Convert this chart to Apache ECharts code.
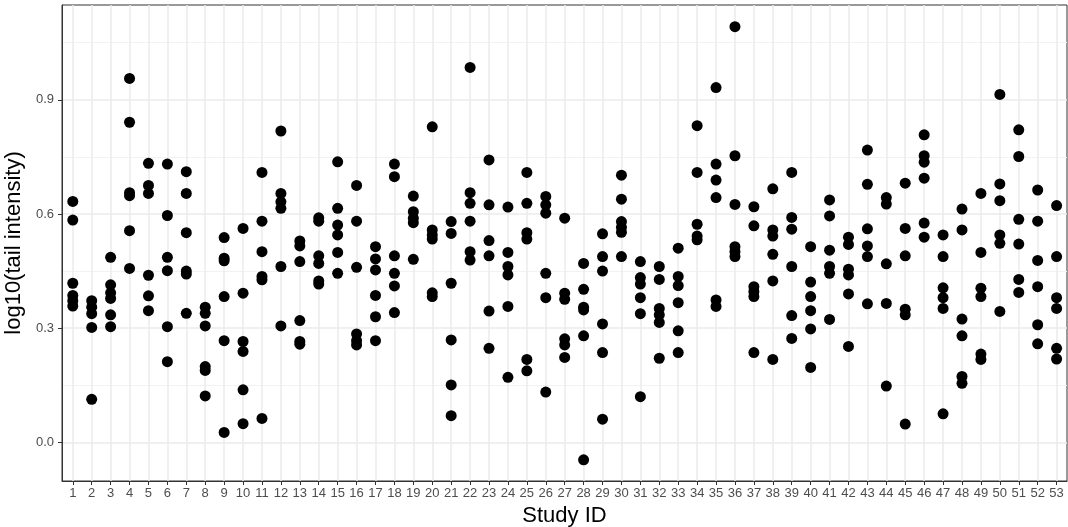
<!DOCTYPE html>
<html>
<head>
<meta charset="utf-8">
<script src="https://cdn.jsdelivr.net/npm/echarts@6/dist/echarts.min.js"></script>
<style>
html,body{margin:0;padding:0;background:#fff;}
#chart{width:1068px;height:527px;}
</style>
</head>
<body>
<div id="chart"></div>
<script>
// Study IDs (x categories)
const studyIds = [];
for (let i = 1; i <= 53; i++) studyIds.push(i);

// log10(tail intensity) values per study
const tailIntensity = [
  [0.633, 0.584, 0.418, 0.386, 0.372, 0.358],   // 1
  [0.372, 0.355, 0.338, 0.302, 0.113],          // 2
  [0.486, 0.414, 0.393, 0.378, 0.335, 0.304],   // 3
  [0.956, 0.841, 0.656, 0.648, 0.556, 0.457],   // 4
  [0.733, 0.675, 0.654, 0.439, 0.385, 0.346],   // 5
  [0.731, 0.596, 0.486, 0.451, 0.304, 0.212],   // 6
  [0.711, 0.654, 0.551, 0.450, 0.442, 0.339],   // 7
  [0.355, 0.339, 0.306, 0.199, 0.189, 0.122],   // 8
  [0.538, 0.484, 0.477, 0.383, 0.267, 0.026],   // 9
  [0.562, 0.392, 0.265, 0.239, 0.138, 0.049],   // 10
  [0.709, 0.581, 0.501, 0.436, 0.427, 0.063],   // 11
  [0.818, 0.654, 0.632, 0.615, 0.462, 0.306],   // 12
  [0.529, 0.516, 0.475, 0.320, 0.265, 0.258],   // 13
  [0.590, 0.581, 0.490, 0.470, 0.424, 0.416],   // 14
  [0.737, 0.615, 0.571, 0.545, 0.499, 0.444],   // 15
  [0.675, 0.581, 0.460, 0.285, 0.267, 0.256],   // 16
  [0.514, 0.482, 0.453, 0.386, 0.330, 0.267],   // 17
  [0.731, 0.698, 0.490, 0.444, 0.411, 0.341],   // 18
  [0.647, 0.606, 0.589, 0.577, 0.481],          // 19
  [0.829, 0.558, 0.545, 0.534, 0.393, 0.383],   // 20
  [0.580, 0.549, 0.418, 0.269, 0.151, 0.070],   // 21
  [0.985, 0.656, 0.628, 0.581, 0.501, 0.479],   // 22
  [0.742, 0.624, 0.530, 0.490, 0.345, 0.247],   // 23
  [0.618, 0.499, 0.462, 0.440, 0.357, 0.171],   // 24
  [0.709, 0.628, 0.551, 0.534, 0.218, 0.188],   // 25
  [0.646, 0.624, 0.602, 0.444, 0.380, 0.132],   // 26
  [0.589, 0.392, 0.376, 0.272, 0.256, 0.223],   // 27
  [0.470, 0.402, 0.355, 0.348, 0.280, -0.046],  // 28
  [0.548, 0.488, 0.450, 0.311, 0.236, 0.061],   // 29
  [0.702, 0.639, 0.580, 0.565, 0.552, 0.488],   // 30
  [0.475, 0.433, 0.416, 0.380, 0.338, 0.120],   // 31
  [0.462, 0.428, 0.352, 0.335, 0.315, 0.221],   // 32
  [0.510, 0.436, 0.412, 0.367, 0.293, 0.236],   // 33
  [0.832, 0.709, 0.573, 0.542, 0.532],          // 34
  [0.932, 0.731, 0.689, 0.643, 0.374, 0.357],   // 35
  [1.092, 0.753, 0.625, 0.514, 0.501, 0.488],   // 36
  [0.619, 0.569, 0.409, 0.396, 0.383, 0.236],   // 37
  [0.666, 0.558, 0.542, 0.494, 0.424, 0.218],   // 38
  [0.709, 0.591, 0.560, 0.462, 0.333, 0.273],   // 39
  [0.514, 0.421, 0.383, 0.346, 0.298, 0.197],   // 40
  [0.637, 0.595, 0.505, 0.462, 0.444, 0.323],   // 41
  [0.539, 0.520, 0.455, 0.440, 0.390, 0.252],   // 42
  [0.768, 0.678, 0.561, 0.516, 0.488, 0.364],   // 43
  [0.643, 0.626, 0.469, 0.365, 0.148],          // 44
  [0.681, 0.562, 0.490, 0.350, 0.335, 0.048],   // 45
  [0.808, 0.753, 0.736, 0.694, 0.576, 0.539],   // 46
  [0.545, 0.488, 0.406, 0.380, 0.352, 0.075],   // 47
  [0.613, 0.558, 0.324, 0.280, 0.173, 0.155],   // 48
  [0.654, 0.499, 0.405, 0.383, 0.232, 0.218],   // 49
  [0.914, 0.679, 0.635, 0.545, 0.523, 0.344],   // 50
  [0.821, 0.751, 0.586, 0.521, 0.428, 0.394],   // 51
  [0.663, 0.581, 0.478, 0.409, 0.309, 0.259],   // 52
  [0.622, 0.488, 0.380, 0.352, 0.247, 0.219]    // 53
];

// axis tick values
const yMajorTicks = [0, 0.3, 0.6, 0.9];
const yMinorTicks = [0.15, 0.45, 0.75, 1.05];

const points = [];
studyIds.forEach((id, i) => {
  tailIntensity[i].forEach(v => points.push([id, v]));
});

const chart = echarts.init(document.getElementById('chart'), null, {renderer: 'canvas'});
const FONT = '"Liberation Sans", Arial, Helvetica, sans-serif';

chart.setOption({
  animation: false,
  backgroundColor: '#ffffff',
  grid: {
    left: 62, top: 5, right: 1, bottom: 46,
    containLabel: false,
    outerBoundsMode: 'none',
    show: true, borderColor: '#333333', borderWidth: 1, backgroundColor: 'transparent'
  },
  xAxis: {
    type: 'value',
    min: 0.43, max: 53.55,
    name: 'Study ID',
    nameLocation: 'middle',
    nameGap: 24,
    nameTextStyle: {fontFamily: FONT, fontSize: 22, color: '#000'},
    axisLine: {show: true, onZero: false, lineStyle: {color: '#333333', width: 1}},
    axisTick: {show: true, length: 4, customValues: studyIds, lineStyle: {color: '#333333', width: 1}},
    axisLabel: {show: true, customValues: studyIds, margin: 6, fontFamily: FONT, fontSize: 13, color: '#4d4d4d',
      formatter: v => String(v)},
    splitLine: {show: true, lineStyle: {color: '#ebebeb', width: 1.5}}
  },
  yAxis: [{
    type: 'value',
    min: -0.1015, max: 1.149,
    name: 'log10(tail intensity)',
    nameLocation: 'middle',
    nameRotate: 90,
    nameGap: 30,
    nameTextStyle: {fontFamily: FONT, fontSize: 22, color: '#000'},
    axisLine: {show: true, onZero: false, lineStyle: {color: '#333333', width: 1}},
    axisTick: {show: true, length: 4, customValues: yMajorTicks, lineStyle: {color: '#333333', width: 1}},
    axisLabel: {show: true, customValues: yMajorTicks, margin: 8, fontFamily: FONT, fontSize: 13, color: '#4d4d4d',
      formatter: v => v.toFixed(1)},
    splitLine: {show: true, lineStyle: {color: '#ebebeb', width: 1.5}}
  }, {
    type: 'value',
    min: -0.1015, max: 1.149,
    position: 'left',
    axisLine: {show: false},
    axisTick: {show: false, customValues: yMinorTicks},
    axisLabel: {show: false, customValues: yMinorTicks},
    splitLine: {show: true, lineStyle: {color: '#f2f2f2', width: 1}}
  }],
  series: [{
    type: 'scatter',
    data: points,
    symbol: 'circle',
    symbolSize: 11,
    itemStyle: {color: '#000000', opacity: 1},
    emphasis: {disabled: true},
    z: 10
  }]
});
</script>
</body>
</html>
